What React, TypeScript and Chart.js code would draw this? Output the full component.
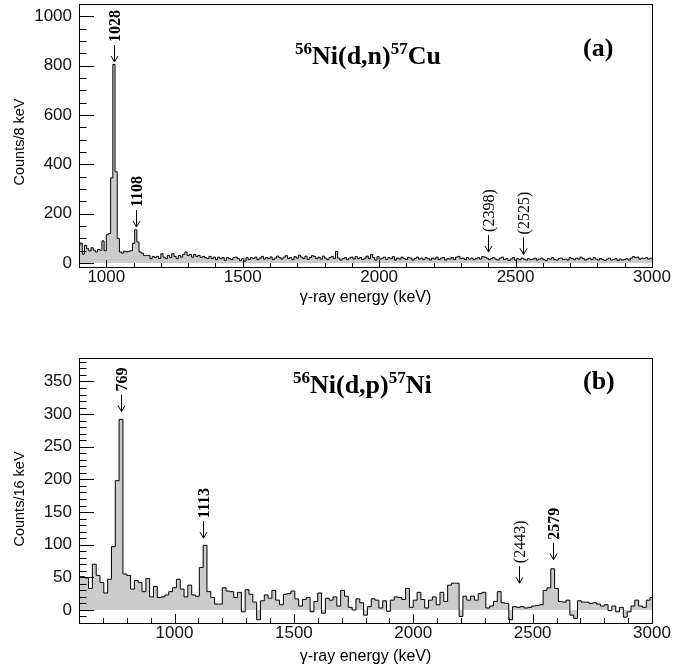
import React, { useEffect, useRef } from "react";
import { Chart, registerables } from "chart.js";
Chart.register(...registerables);

// ---------- Panel (a): 56Ni(d,n)57Cu, 8 keV bins ----------
const binStartA = 896;
const binWidthA = 8;
const countsA = [
  72, 81, 36, 72, 58, 49, 62, 52, 45, 55,
  52, 90, 50, 115, 120, 345, 805, 370, 100, 45,
  40, 48, 45, 48, 50, 80, 135, 85, 45, 40,
  30, 31, 31, 18, 27, 22, 27, 18, 38, 24,
  18, 31, 22, 38, 27, 18, 31, 24, 35, 45,
  31, 35, 24, 35, 27, 31, 22, 27, 22, 18,
  27, 18, 24, 14, 24, 18, 22, 11, 22, 18,
  14, 22, 24, 18, 11, 18, 8, 22, 14, 22,
  18, 24, 14, 20, 27, 16, 22, 18, 25, 14,
  20, 28, 22, 16, 24, 30, 18, 22, 14, 26,
  20, 32, 24, 18, 28, 15, 22, 30, 26, 18,
  24, 16, 28, 20, 14, 22, 26, 18, 47, 20,
  12, 18, 22, 14, 20, 24, 16, 26, 18, 22,
  14, 20, 28, 18, 35, 22, 12, 26, 16, 20,
  24, 14, 22, 18, 26, 12, 20, 16, 24, 18,
  14, 22, 20, 12, 18, 24, 16, 20, 14, 22,
  18, 12, 20, 16, 24, 14, 20, 22, 12, 18,
  16, 22, 14, 24, 27, 18, 20, 14, 22, 16,
  20, 14, 18, 22, 16, 26, 24, 20, 14, 18,
  22, 16, 12, 20, 24, 14, 18, 10, 16, 22,
  12, 18, 14, 20, 16, 12, 18, 14, 16, 20,
  12, 16, 20, 14, 10, 18, 16, 22, 14, 12,
  18, 20, 14, 16, 12, 22, 18, 14, 20, 16,
  24, 18, 12, 16, 20, 14, 22, 16, 12, 18,
  14, 10, 16, 20, 12, 14, 18, 10, 16, 12,
  14, 18, 12, 20, 26, 22, 24, 16, 20, 18,
  22, 16, 20,
];
const xTicksA = [1000, 1500, 2000, 2500, 3000];
const yTicksA = [0, 200, 400, 600, 800, 1000];
const peakLabelsA = ["1028", "1108", "(2398)", "(2525)"];
const peakEnergiesA = [1030, 1110, 2400, 2528];
const peakBoldA = [true, true, false, false];
const arrowTipCountsA = [815, 146, 45, 35];
const titlePartsA: [string, boolean][] = [["56", true], ["Ni(d,n)", false], ["57", true], ["Cu", false]];

// ---------- Panel (b): 56Ni(d,p)57Ni, 16 keV bins ----------
const binStartB = 592;
const binWidthB = 16;
const countsB = [
  51, 51, 49, 33, 70, 53, 42, 26, 47, 97,
  198, 292, 55, 53, 32, 45, 42, 28, 48, 20,
  36, 19, 20, 23, 28, 34, 47, 32, 20, 38,
  23, 21, 65, 99, 28, 19, 9, 9, 34, 29,
  28, 19, 27, -3, 31, 24, 12, -15, 14, 23,
  18, 30, 15, 8, 24, 25, 29, 17, 6, 16,
  19, -3, 13, 26, -5, 18, 15, 20, 6, 30,
  21, 4, 0, 17, 11, -8, 5, 17, 15, 3,
  14, -2, 15, 20, 19, 16, 33, 4, 15, 27,
  16, 3, 15, 20, 8, 27, 13, 38, 41, 41,
  -10, 21, 15, 21, 15, 25, 27, 3, 6, 13,
  28, 11, 10, -15, 5, 4, 5, 3, 4, 6,
  7, 8, 30, 34, 63, 33, 13, 12, 15, -8,
  -13, 14, 12, 12, 10, 11, 9, 6, 8, -1,
  6, -3, 4, -11, -3, 6, 15, 6, 4, 15,
  19,
];
const xTicksB = [1000, 1500, 2000, 2500, 3000];
const yTicksB = [0, 50, 100, 150, 200, 250, 300, 350];
const peakLabelsB = ["769", "1113", "(2443)", "2579"];
const peakEnergiesB = [776, 1120, 2443, 2584];
const peakBoldB = [true, true, false, true];
const arrowTipCountsB = [304, 110, 41, 77];
const titlePartsB: [string, boolean][] = [["56", true], ["Ni(d,p)", false], ["57", true], ["Ni", false]];

const SANS = "'Liberation Sans', Arial, Helvetica, sans-serif";
const SERIF = "'Liberation Serif', 'Times New Roman', serif";

function histPoints(start: number, width: number, counts: number[]) {
  const pts = counts.map((c, i) => ({ x: start + i * width, y: c }));
  pts.push({ x: start + counts.length * width, y: counts[counts.length - 1] });
  return pts;
}

type PanelCfg = {
  canvasTop: number;
  canvasHeight: number;
  areaTop: number;
  xAxisH: number;
  xMin: number; xMax: number; yMin: number; yMax: number;
  binStart: number; binWidth: number; counts: number[];
  xTicks: number[]; yTicks: number[];
  yMinorStep: number; yMajorStep: number;
  xMajorLen: number; xMinorLen: number;
  labels: string[]; energies: number[]; bold: boolean[]; tips: number[];
  titleParts: [string, boolean][]; titleX: number; titleBase: number;
  tag: string; tagX: number; tagBase: number;
  yTitle: string; yTitleY: number; xTitleY: number;
};

const panelA: PanelCfg = {
  canvasTop: 0, canvasHeight: 310, areaTop: 4, xAxisH: 43,
  xMin: 900, xMax: 3000, yMin: -16, yMax: 1050,
  binStart: binStartA, binWidth: binWidthA, counts: countsA,
  xTicks: xTicksA, yTicks: yTicksA, yMinorStep: 50, yMajorStep: 200,
  xMajorLen: 7, xMinorLen: 4,
  labels: peakLabelsA, energies: peakEnergiesA, bold: peakBoldA, tips: arrowTipCountsA,
  titleParts: titlePartsA, titleX: 295, titleBase: 64,
  tag: "(a)", tagX: 583, tagBase: 56,
  yTitle: "Counts/8 keV", yTitleY: 142, xTitleY: 298,
};

const panelB: PanelCfg = {
  canvasTop: 330, canvasHeight: 335, areaTop: 28, xAxisH: 42,
  xMin: 600, xMax: 3000, yMin: -20, yMax: 386,
  binStart: binStartB, binWidth: binWidthB, counts: countsB,
  xTicks: xTicksB, yTicks: yTicksB, yMinorStep: 10, yMajorStep: 50,
  xMajorLen: 9, xMinorLen: 5,
  labels: peakLabelsB, energies: peakEnergiesB, bold: peakBoldB, tips: arrowTipCountsB,
  titleParts: titlePartsB, titleX: 293, titleBase: 63,
  tag: "(b)", tagX: 583, tagBase: 59,
  yTitle: "Counts/16 keV", yTitleY: 169, xTitleY: 327,
};

function makeDeco(cfg: PanelCfg) {
  return {
    id: "deco",
    afterDatasetsDraw(chart: any) {
      const { ctx, chartArea: a } = chart;
      const xs = chart.scales.x;
      const ys = chart.scales.y;
      ctx.save();
      ctx.strokeStyle = "#000";
      ctx.lineWidth = 1;
      // inward x ticks
      ctx.beginPath();
      for (let v = Math.ceil(cfg.xMin / 100) * 100; v <= cfg.xMax; v += 100) {
        const px = Math.round(xs.getPixelForValue(v)) + 0.5;
        const len = v % 500 === 0 ? cfg.xMajorLen : cfg.xMinorLen;
        ctx.moveTo(px, a.bottom);
        ctx.lineTo(px, a.bottom - len);
      }
      // inward y ticks
      for (let v = Math.ceil(cfg.yMin / cfg.yMinorStep) * cfg.yMinorStep; v <= cfg.yMax; v += cfg.yMinorStep) {
        const py = Math.round(ys.getPixelForValue(v)) + 0.5;
        const len = v % cfg.yMajorStep === 0 ? 15 : 7.5;
        ctx.moveTo(a.left, py);
        ctx.lineTo(a.left + len, py);
      }
      ctx.stroke();
      // frame
      ctx.strokeRect(Math.round(a.left) + 0.5, Math.round(a.top) + 0.5, Math.round(a.right - a.left), Math.round(a.bottom - a.top));
      // peak annotations
      ctx.fillStyle = "#000";
      cfg.labels.forEach((lab, i) => {
        const px = Math.round(xs.getPixelForValue(cfg.energies[i])) + 0.5;
        const tip = ys.getPixelForValue(cfg.tips[i]);
        ctx.beginPath();
        ctx.moveTo(px, tip);
        ctx.lineTo(px, tip - 17);
        ctx.moveTo(px - 3.5, tip - 6);
        ctx.lineTo(px, tip);
        ctx.lineTo(px + 3.5, tip - 6);
        ctx.stroke();
        ctx.save();
        ctx.translate(px + 1, tip - 20);
        ctx.rotate(-Math.PI / 2);
        ctx.font = `${cfg.bold[i] ? "bold " : ""}16px ${SERIF}`;
        ctx.textAlign = "left";
        ctx.textBaseline = "middle";
        ctx.fillText(lab, 0, 0);
        ctx.restore();
      });
      // reaction title with superscripts
      let tx = cfg.titleX;
      cfg.titleParts.forEach(([t, sup]) => {
        ctx.font = sup ? `bold 17px ${SERIF}` : `bold 26px ${SERIF}`;
        ctx.textAlign = "left";
        ctx.textBaseline = "alphabetic";
        ctx.fillText(t, tx, cfg.titleBase - (sup ? 10 : 0));
        tx += ctx.measureText(t).width;
      });
      ctx.font = `bold 26px ${SERIF}`;
      ctx.fillText(cfg.tag, cfg.tagX, cfg.tagBase);
      // axis titles
      ctx.font = `16px ${SANS}`;
      ctx.textAlign = "center";
      ctx.textBaseline = "middle";
      ctx.fillText("γ-ray energy (keV)", (a.left + a.right) / 2, cfg.xTitleY);
      ctx.font = `14.5px ${SANS}`;
      ctx.save();
      ctx.translate(20, cfg.yTitleY);
      ctx.rotate(-Math.PI / 2);
      ctx.fillText(cfg.yTitle, 0, 0);
      ctx.restore();
      ctx.restore();
    },
  };
}

function Panel({ cfg }: { cfg: PanelCfg }) {
  const ref = useRef<HTMLCanvasElement>(null);
  useEffect(() => {
    const tickFont = { family: SANS, size: 17 };
    const chart = new Chart(ref.current as HTMLCanvasElement, {
      type: "line",
      data: {
        datasets: [
          {
            data: histPoints(cfg.binStart, cfg.binWidth, cfg.counts),
            stepped: "before",
            borderColor: "#000",
            borderWidth: 1,
            backgroundColor: "#cbcbcb",
            fill: "origin",
            pointRadius: 0,
            pointHoverRadius: 0,
          },
        ],
      },
      options: {
        responsive: false,
        animation: false,
        events: [],
        layout: { padding: { top: cfg.areaTop, right: 32, left: 0, bottom: 0 } },
        plugins: { legend: { display: false }, tooltip: { enabled: false } },
        scales: {
          x: {
            type: "linear",
            min: cfg.xMin,
            max: cfg.xMax,
            grid: { display: false, drawTicks: false },
            border: { display: false },
            ticks: { font: tickFont, color: "#111", padding: 0, maxRotation: 0, autoSkip: false, callback: (v: any) => String(v) },
            afterBuildTicks: (s: any) => { s.ticks = cfg.xTicks.map((v) => ({ value: v })); },
            afterFit: (s: any) => { s.height = cfg.xAxisH; s.paddingLeft = 0; s.paddingRight = 0; },
          },
          y: {
            type: "linear",
            min: cfg.yMin,
            max: cfg.yMax,
            grid: { display: false, drawTicks: false },
            border: { display: false },
            ticks: { font: tickFont, color: "#111", padding: 7, autoSkip: false, callback: (v: any) => String(v) },
            afterBuildTicks: (s: any) => { s.ticks = cfg.yTicks.map((v) => ({ value: v })); },
            afterFit: (s: any) => { s.width = 79; s.paddingTop = 0; s.paddingBottom = 0; },
          },
        },
      } as any,
      plugins: [makeDeco(cfg)],
    });
    return () => chart.destroy();
  }, []);
  return (
    <canvas
      ref={ref}
      width={684}
      height={cfg.canvasHeight}
      style={{ position: "absolute", left: 0, top: cfg.canvasTop, display: "block" }}
    />
  );
}

export default function App() {
  return (
    <div style={{ position: "absolute", left: 0, top: 0, width: 684, height: 665, background: "#fff" }}>
      <Panel cfg={panelA} />
      <Panel cfg={panelB} />
    </div>
  );
}
